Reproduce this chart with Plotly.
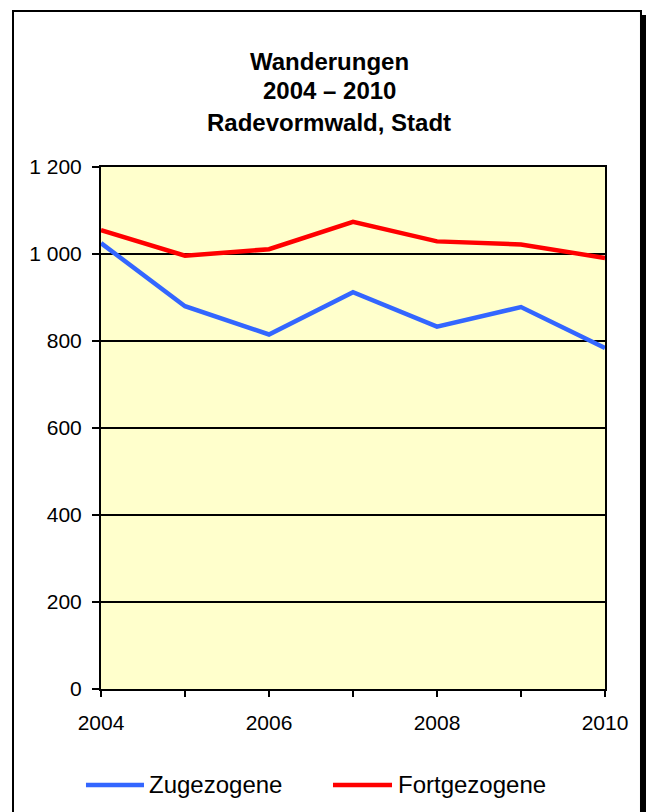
import plotly.graph_objects as go

# Daten
jahre = [2004, 2005, 2006, 2007, 2008, 2009, 2010]
zugezogene = [1025, 880, 815, 912, 833, 878, 784]
fortgezogene = [1055, 996, 1011, 1074, 1029, 1022, 991]
serien = ["Zugezogene", "Fortgezogene"]
farben = ["#3366FF", "#FF0000"]
titel_zeilen = ["Wanderungen", "2004 – 2010", "Radevormwald, Stadt"]
x_ticktext = ["2004", "", "2006", "", "2008", "", "2010"]
y_tickvals = [0, 200, 400, 600, 800, 1000, 1200]

FONT = "Liberation Sans, Arial, sans-serif"

fig = go.Figure()
for name, werte, farbe in zip(serien, [zugezogene, fortgezogene], farben):
    fig.add_trace(go.Scatter(
        x=jahre, y=werte, name=name, mode="lines",
        line=dict(color=farbe, width=4.5),
        showlegend=False,
    ))

# Rahmen + Schatten
fig.add_shape(type="rect", xref="paper", yref="paper",
              x0=1.0714, x1=1.09, y0=-0.3, y1=1.2912,
              fillcolor="black", line=dict(width=0), layer="below")
fig.add_shape(type="rect", xref="paper", yref="paper",
              x0=-0.1746, x1=1.0714, y0=-0.3, y1=1.2989,
              line=dict(color="black", width=2), layer="below")

# Titel
for zeile, y in zip(titel_zeilen, [1.203, 1.1456, 1.0843]):
    fig.add_annotation(text=f"<b>{zeile}</b>", xref="paper", yref="paper",
                       x=0.453, y=y, xanchor="center", yanchor="middle",
                       showarrow=False, font=dict(size=24, color="black", family=FONT))

# Legende (manuell, wegen der langen Liniensymbole)
leg_pos = [(-0.0298, 0.0853, 0.0913), (0.4603, 0.5774, 0.5853)]
for name, farbe, (x0, x1, xt) in zip(serien, farben, leg_pos):
    fig.add_shape(type="line", xref="paper", yref="paper",
                  x0=x0, x1=x1, y0=-0.1839, y1=-0.1839,
                  line=dict(color=farbe, width=4.5))
    fig.add_annotation(text=name, xref="paper", yref="paper",
                       x=xt, y=-0.1839, xanchor="left", yanchor="middle",
                       showarrow=False, font=dict(size=24, color="black", family=FONT))

fig.update_layout(
    width=646, height=812,
    margin=dict(l=101, r=41, t=167, b=123),
    paper_bgcolor="white",
    plot_bgcolor="#FFFFCC",
    font=dict(family=FONT, size=21, color="black"),
    separators=", ",
    showlegend=False,
    xaxis=dict(
        range=[2004, 2010], tickvals=jahre, ticktext=x_ticktext,
        ticks="outside", ticklen=6, tickwidth=2, tickcolor="black",
        showline=True, linecolor="black", linewidth=2, mirror=True,
        showgrid=False, zeroline=False, ticklabelstandoff=8,
    ),
    yaxis=dict(
        range=[0, 1200], tickvals=y_tickvals, tickformat=",d",
        ticks="outside", ticklen=7, tickwidth=2, tickcolor="black",
        showline=True, linecolor="black", linewidth=2, mirror=True,
        showgrid=True, gridcolor="black", gridwidth=2, zeroline=False,
        ticklabelstandoff=6,
    ),
)

fig.write_html("out.html", config={"displayModeBar": False},
               post_script="document.body.style.margin='0';")
